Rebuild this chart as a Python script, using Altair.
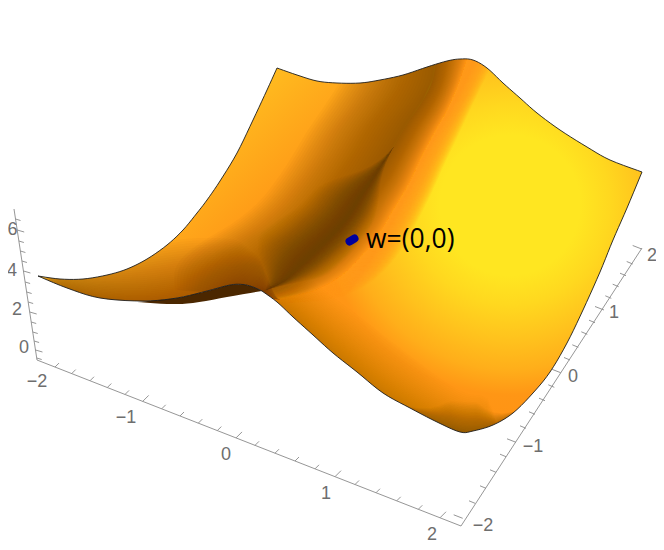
import altair as alt

# ---- surface silhouette (image pixels) ----
edge_top_left_x = [38,60,83,107,127,147,167,183,197,207,220,237,253,267,277]
edge_top_left_y = [276,279,279,275,269,259,245,230,213,200,181,153,120,90,68]
edge_back_x = [277,297,317,337,360,380,403,427,447,460,473,487,503,520,537,560,587,610,642]
edge_back_y = [68,75,81,83,83,80,75,67,61,59,60,68,83,98,113,130,147,160,172]
edge_right_x = [642,627,613,600,583,567,550,533,513,493,473,460,437,410,383,357,333,313,293,277,262]
edge_right_y = [172,208,240,272,310,343,372,393,413,425,431,432,422,408,393,372,353,335,317,302,291]
edge_fold_x = [262,253,243,230,207,177,143,100,67,38]
edge_fold_y = [291,287,284.5,285,291,298,301,298,288,276]
under_x = [137,167,193,227,262,253,243,230,207,177]
under_y = [302,304,303,297,291,287,284.5,285,291,298]

# ---- shading guides: darkest line, and the lines where each band fades out ----
valley_c = [(437,45),(433,78),(423,100),(407,123),(393,147),(377,173),(363,193),(353,210),(337,230),(317,247),(297,267),(280,283),(262,292)]
valley_r = [(468,55),(458,85),(447,110),(433,135),(420,160),(407,187),(393,210),(380,232),(363,254),(343,274),(320,288),(298,295),(272,300)]
valley_l = [(350,45),(340,80),(325,105),(308,130),(293,155),(280,175),(265,195),(250,210),(230,225),(205,240),(185,255),(175,270),(175,290)]
deep_c = [(395,145),(375,175),(360,197),(345,220),(325,243),(305,262),(285,280),(262,292)]
deep_r = [(405,155),(392,190),(378,215),(363,238),(343,262),(320,280),(298,292),(272,298)]
deep_l = [(375,135),(340,160),(320,182),(300,205),(275,222),(252,240),(230,262),(215,285)]
halo_c = valley_r
halo_r = [(496,55),(482,85),(470,110),(456,140),(444,165),(432,192),(420,216),(408,238),(392,262),(368,284),(335,298),(300,302),(272,304)]
halo_l = valley_c
fold_c = [(38,280),(67,292),(100,302),(143,306),(177,303),(207,296),(233,290),(250,292),(262,294),(280,300)]
fold_l = [(38,256),(70,258),(105,252),(140,245),(175,240),(205,238),(235,240),(250,250),(262,262),(280,290)]
fold_r = [(38,290),(67,300),(100,310),(143,314),(177,311),(207,304),(233,298),(250,300),(262,302),(280,304)]
edge_c = [(262,296),(293,322),(333,358),(383,398),(437,428),(470,437),(500,430)]
edge_l = [(290,262),(320,287),(360,317),(405,352),(450,385),(475,395),(505,392)]
edge_r = [(262,306),(293,332),(333,368),(383,408),(437,438),(470,447),(505,440)]
foot_c = [(385,400),(437,430),(462,440),(485,436),(530,405)]
foot_l = [(405,380),(440,398),(465,402),(485,400),(520,385)]
foot_r = [(385,410),(437,438),(462,448),(485,444),(535,415)]

left_sheet_x = [30,30,270,262,280,297,317,337,353,363,377,393,407,423,433,437,260]
left_sheet_y = [270,330,330,292,283,267,247,230,210,193,173,147,123,100,78,45,45]

# ---- axes ----
z_ticks = [219,230,241,251,261,271,282,292,302,312,322,332,341,350,358]
z_major = [230,271,312,350]
x_ticks = [55,71.7,90,107.3,125,142.7,161.7,180,198.3,217.3,236,255,275,295,315,335,355,376,396.7,418.3,440]
x_major = [142.7,236,335,440]
y_ticks_x = [462.7,475,486,496,506,516,526,535,545,554.3,560.7,570,578.3,587.3,595,604,611.3,618.7,626,632.7,641.7]
y_ticks_y = [518.3,503.3,488.3,472.3,456.7,442.3,428.3,414.3,400.7,387.3,372.7,360,347.3,334.3,322.7,310,298.3,286.7,275.7,264,249]
y_major = [462.7,516,560.7,604,641.7]

labels = ["6","4","2","0","\u22122","\u22121","0","1","2","\u22122","\u22121","0","1","2"]
label_x = [12.5,12,17,24,37,126,226,326,432,483,533,573,614,652]
label_y = [230,271,310,348,382,418,455,494,535,526,447,377,313,256]


def poly(pts):
    return {"type": "Feature", "properties": {},
            "geometry": {"type": "Polygon", "coordinates": [[list(p) for p in pts] + [list(pts[0])]]}}


def line(pts):
    return {"type": "Feature", "properties": {},
            "geometry": {"type": "LineString", "coordinates": [list(p) for p in pts]}}


def lerp(a, b, f):
    return (a[0] + (b[0] - a[0]) * f, a[1] + (b[1] - a[1]) * f)


def curve(pts, sub=5):
    out = []
    for i in range(len(pts) - 1):
        p0 = pts[max(i - 1, 0)]
        p1, p2 = pts[i], pts[i + 1]
        p3 = pts[min(i + 2, len(pts) - 1)]
        for s in range(sub):
            t = s / sub
            out.append(tuple(
                0.5 * (2 * p1[a] + (p2[a] - p0[a]) * t + (2 * p0[a] - 5 * p1[a] + 4 * p2[a] - p3[a]) * t * t
                       + (3 * p1[a] - p0[a] - 3 * p2[a] + p3[a]) * t ** 3) for a in (0, 1)))
    out.append(tuple(pts[-1]))
    return out


def soft_band(c, l, r, color, opacity, n=32, taper=0, power=1.0):
    c, l, r = curve(c), curve(l), curve(r)
    m = len(c)
    feats = []
    for k in range(n, 0, -1):
        f = (k / n) ** power
        a, b = [], []
        for i in range(m):
            w = 1.0
            if taper:
                u = min(1.0, min(i, m - 1 - i) / (taper * m))
                w = u * u * (3 - 2 * u)
            a.append(lerp(c[i], l[i], f * w))
            b.append(lerp(c[i], r[i], f * w))
        feats.append(poly(a + b[::-1]))
    return alt.Chart(alt.Data(values=feats)).mark_geoshape(fill=color, opacity=opacity, strokeWidth=0)


outline = (curve(list(zip(edge_top_left_x, edge_top_left_y)))[:-1]
           + curve(list(zip(edge_back_x, edge_back_y)))[:-1]
           + curve(list(zip(edge_right_x, edge_right_y)))[:-1]
           + curve(list(zip(edge_fold_x, edge_fold_y)))[:-1])
under = curve(list(zip(under_x[:5], under_y[:5]))) + curve(list(zip(under_x[4:] + under_x[:1], under_y[4:] + under_y[:1])))

SQ = (30, 0, 620)
square = [(SQ[0], SQ[1]), (SQ[0] + SQ[2], SQ[1]), (SQ[0] + SQ[2], SQ[1] + SQ[2]), (SQ[0], SQ[1] + SQ[2])]
cx, cy = (510 - SQ[0]) / SQ[2], (205 - SQ[1]) / SQ[2]
R = 300
radial = {"gradient": "radial", "x1": cx, "y1": cy, "r1": 0, "x2": cx, "y2": cy, "r2": R / SQ[2],
          "stops": [{"offset": o / R, "color": col} for o, col in
                    [(0, "#FFE621"), (70, "#FFE621"), (100, "#FFD81F"), (135, "#FFC21D"),
                     (165, "#FFAE1A"), (190, "#FF9615"), (300, "#FF8C12")]]}
base = alt.Chart(alt.Data(values=[poly(square)])).mark_geoshape(fill=radial, strokeWidth=0)

# left part of the sheet
lx0, lx1 = min(left_sheet_x), max(left_sheet_x)
ly0, ly1 = min(left_sheet_y), max(left_sheet_y)
def fx(v): return (v - lx0) / (lx1 - lx0)
def fy(v): return (v - ly0) / (ly1 - ly0)
linear = {"gradient": "linear", "x1": fx(190), "y1": fy(150), "x2": fx(330), "y2": fy(225),
          "stops": [{"offset": 0, "color": "#FFBA1F"}, {"offset": 0.55, "color": "#FF9E18"},
                    {"offset": 1, "color": "#FF9010"}]}
left_sheet = alt.Chart(alt.Data(values=[poly(list(zip(left_sheet_x, left_sheet_y)))])).mark_geoshape(fill=linear, strokeWidth=0)

valley_floor = curve(valley_c) + curve(valley_r)[::-1]

layers = [
    base,
    left_sheet,
    soft_band(halo_c, halo_c, halo_r, "#FF9A14", 0.08),
    alt.Chart(alt.Data(values=[poly(valley_floor)])).mark_geoshape(fill="#FF9414", strokeWidth=0),
    soft_band(valley_c, valley_l, valley_r, "#7A4000", 0.04),
    soft_band(deep_c, deep_l, deep_r, "#5A2C00", 0.016, taper=0.35),
    soft_band(fold_c, fold_l, fold_r, "#8A4600", 0.03, taper=0.12, power=1.25),
    soft_band(edge_c, edge_l, edge_r, "#9A5000", 0.018, taper=0.12, power=1.4),
    soft_band(foot_c, foot_l, foot_r, "#6A3A08", 0.026, taper=0.35, power=1.2),
]

# white page around the sheet
page = [(0, 0), (700, 0), (700, 600), (0, 600)]
mask = {"type": "Feature", "properties": {},
        "geometry": {"type": "Polygon",
                     "coordinates": [[list(p) for p in page] + [list(page[0])],
                                     [list(p) for p in outline[::-1]] + [list(outline[-1])]]}}
layers.append(alt.Chart(alt.Data(values=[mask])).mark_geoshape(fill="#FFFFFF", strokeWidth=0))
layers.append(alt.Chart(alt.Data(values=[poly(under)])).mark_geoshape(fill="#4B2700", strokeWidth=0))
layers.append(alt.Chart(alt.Data(values=[line(outline + [outline[0]])]))
              .mark_geoshape(filled=False, stroke="#1c1c1c", strokeWidth=0.9))

# axes
ax = [line([(37, 360), (14, 209)]), line([(37, 360), (461, 526)]), line([(461, 526), (642, 248)])]


def z_line(y):
    return 37 - (360 - y) * 23 / 151


def x_line(x):
    return 360 + (x - 37) * 166 / 424


for y in z_ticks:
    big = y in z_major
    b = (z_line(y), y)
    ax.append(line([b, (b[0] + (7 if big else 5), b[1] + (2 if big else 1.5))]))
for x in x_ticks:
    big = x in x_major
    b = (x, x_line(x))
    ax.append(line([b, (b[0] + (6 if big else 4), b[1] - (6 if big else 4))]))
for x, y in zip(y_ticks_x, y_ticks_y):
    big = x in y_major
    ax.append(line([(x, y), (x - (9 if big else 6), y - (3.5 if big else 2.5))]))
layers.append(alt.Chart(alt.Data(values=ax)).mark_geoshape(filled=False, stroke="#8a8a8a", strokeWidth=0.9))

# minimum point
dot = line([(349.5, 241.5), (354.5, 238.5)])
layers.append(alt.Chart(alt.Data(values=[dot])).mark_geoshape(filled=False, stroke="#00009C", strokeWidth=8, strokeCap="round"))

tick_text = alt.Chart(alt.Data(values=[{"t": t, "x": x, "y": y} for t, x, y in zip(labels, label_x, label_y)])).mark_text(
    font="Liberation Sans", fontSize=18, color="#6e6e6e", align="center", baseline="middle"
).encode(longitude="x:Q", latitude="y:Q", text="t:N")
layers.append(tick_text)

note = alt.Chart(alt.Data(values=[{"t": "w=(0,0)", "x": 366, "y": 248}])).mark_text(
    font="Open Sans", fontSize=26.5, color="#000000", align="left", baseline="alphabetic"
).encode(longitude="x:Q", latitude="y:Q", text="t:N")
layers.append(note)

chart = alt.layer(*layers).properties(
    width=648, height=536, padding=0, autosize=alt.AutoSizeParams(type="none"),
    projection=alt.Projection(type="identity", scale=1, translate=[-8, -8]),
).configure_view(stroke=None)

chart.save("out.html", embed_options={"renderer": "svg", "actions": False})
